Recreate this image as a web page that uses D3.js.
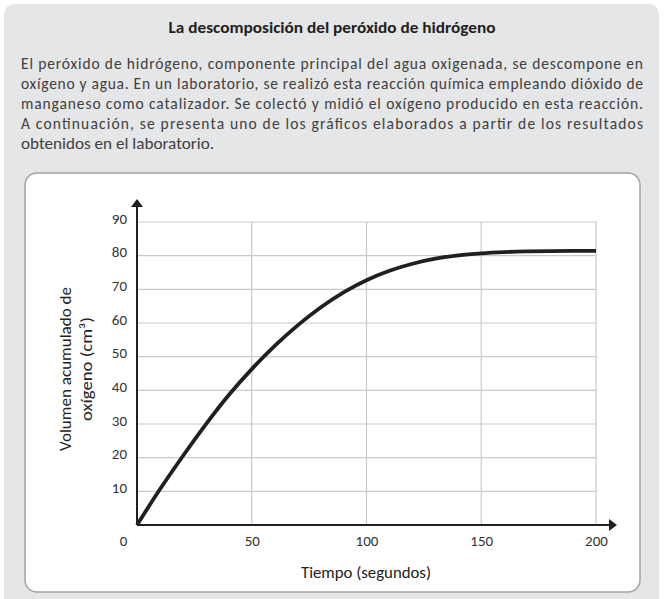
<!DOCTYPE html>
<html>
<head>
<meta charset="utf-8">
<script src="https://cdn.jsdelivr.net/npm/d3@7"></script>
<style>
  html, body { margin: 0; padding: 0; background: #ffffff; }
  svg { display: block; }
  .txt { font-family: Carlito, Calibri, Lato, "Open Sans", sans-serif; }
</style>
</head>
<body>
<svg id="chart" width="664" height="599"></svg>
<script>
// ---- data ----
const title = "La descomposición del peróxido de hidrógeno";
const paragraph = [
  "El peróxido de hidrógeno, componente principal del agua oxigenada, se descompone en",
  "oxígeno y agua. En un laboratorio, se realizó esta reacción química empleando dióxido de",
  "manganeso como catalizador. Se colectó y midió el oxígeno producido en esta reacción.",
  "A continuación, se presenta uno de los gráficos elaborados a partir de los resultados",
  "obtenidos en el laboratorio."
];
const timeSeconds = [0, 10, 20, 30, 40, 50, 60, 70, 80, 90, 100, 110, 120, 130, 140, 150, 160, 170, 180, 190, 200];
const volumeCm3   = [0, 10.6, 20.5, 29.9, 38.6, 46.3, 53.2, 59.3, 64.6, 69.1, 72.7, 75.5, 77.6, 79.1, 80.1, 80.7, 81.05, 81.25, 81.35, 81.4, 81.4];
const xTicks = [0, 50, 100, 150, 200];
const yTicks = [10, 20, 30, 40, 50, 60, 70, 80, 90];
const xTitle = "Tiempo (segundos)";
const yTitleLines = ["Volumen acumulado de", "oxígeno (cm³)"];

// ---- drawing ----
const svg = d3.select("#chart");
const ink = "#231f20";

// outer grey panel
svg.append("rect").attr("x", 4).attr("y", 4).attr("width", 655).attr("height", 620)
  .attr("rx", 10).attr("fill", "#e5e6e7");

// title
svg.append("text").attr("class", "txt")
  .attr("x", 332).attr("y", 33).attr("text-anchor", "middle")
  .attr("font-size", 15.5).attr("font-weight", "bold").attr("fill", ink)
  .attr("textLength", 327).attr("lengthAdjust", "spacingAndGlyphs")
  .text(title);

// paragraph
const parY0 = 69, parStep = 20;
const parWidths = [622, 622, 622, 622, 193];
paragraph.forEach((line, i) => {
  svg.append("text").attr("class", "txt")
    .attr("x", 21).attr("y", parY0 + i * parStep)
    .attr("font-size", 15.5).attr("fill", "#404040")
    .attr("textLength", parWidths[i]).attr("lengthAdjust", i < 4 ? "spacing" : "spacingAndGlyphs")
    .text(line);
});

// white chart box
svg.append("rect").attr("x", 25).attr("y", 173).attr("width", 615).attr("height", 419)
  .attr("rx", 12).attr("fill", "#ffffff").attr("stroke", "#a3a3a3").attr("stroke-width", 1.5);

// scales
const x = d3.scaleLinear().domain([0, 200]).range([137, 596]);
const y = d3.scaleLinear().domain([0, 90]).range([525, 222]);

// grid
const grid = svg.append("g").attr("stroke", "#c9c9c9").attr("stroke-width", 1.2);
yTicks.forEach(v => {
  grid.append("line").attr("x1", x(0)).attr("x2", x(200)).attr("y1", y(v)).attr("y2", y(v));
});
xTicks.filter(v => v > 0).forEach(v => {
  grid.append("line").attr("x1", x(v)).attr("x2", x(v)).attr("y1", y(90)).attr("y2", y(0));
});

// axes labels through d3 axes
const yAxis = svg.append("g").attr("transform", `translate(${x(0)},0)`)
  .call(d3.axisLeft(y).tickValues(yTicks).tickSize(0).tickPadding(10).tickFormat(d3.format("d")));
yAxis.select(".domain").remove();
yAxis.selectAll("text").attr("class", "txt").attr("font-size", 15).attr("fill", "#333").attr("dy", 1);

const xAxis = svg.append("g").attr("transform", `translate(0,${y(0)})`)
  .call(d3.axisBottom(x).tickValues(xTicks).tickSize(0).tickPadding(10).tickFormat(d3.format("d")));
xAxis.select(".domain").remove();
xAxis.selectAll("text").attr("class", "txt").attr("font-size", 15).attr("fill", "#333");
xAxis.selectAll(".tick").filter(d => d === 0).select("text").attr("dx", -14);

// axis lines with arrows
svg.append("line").attr("x1", x(0)).attr("x2", x(0)).attr("y1", y(0)).attr("y2", 206)
  .attr("stroke", ink).attr("stroke-width", 2);
svg.append("path").attr("d", `M${x(0)},199 L${x(0) - 6},207 L${x(0) + 6},207 Z`).attr("fill", ink);
svg.append("line").attr("x1", x(0)).attr("x2", 610).attr("y1", y(0)).attr("y2", y(0))
  .attr("stroke", ink).attr("stroke-width", 2);
svg.append("path").attr("d", `M617,${y(0)} L609,${y(0) - 6} L609,${y(0) + 6} Z`).attr("fill", ink);

// curve
const pts = timeSeconds.map((t, i) => [t, volumeCm3[i]]);
svg.append("path").datum(pts)
  .attr("d", d3.line().x(d => x(d[0])).y(d => y(d[1])).curve(d3.curveMonotoneX))
  .attr("fill", "none").attr("stroke", ink).attr("stroke-width", 3.8).attr("stroke-linecap", "butt");

// axis titles
svg.append("text").attr("class", "txt")
  .attr("x", 366).attr("y", 578).attr("text-anchor", "middle")
  .attr("font-size", 15.5).attr("fill", "#222")
  .attr("textLength", 130).attr("lengthAdjust", "spacingAndGlyphs")
  .text(xTitle);

const yTitleLens = [164, 104];
yTitleLines.forEach((line, i) => {
  svg.append("text").attr("class", "txt")
    .attr("transform", `translate(${65 + i * 21.5},369) rotate(-90)`)
    .attr("text-anchor", "middle").attr("dy", "0.35em")
    .attr("font-size", 16).attr("fill", "#222")
    .attr("textLength", yTitleLens[i]).attr("lengthAdjust", "spacingAndGlyphs")
    .text(line);
});
</script>
</body>
</html>
